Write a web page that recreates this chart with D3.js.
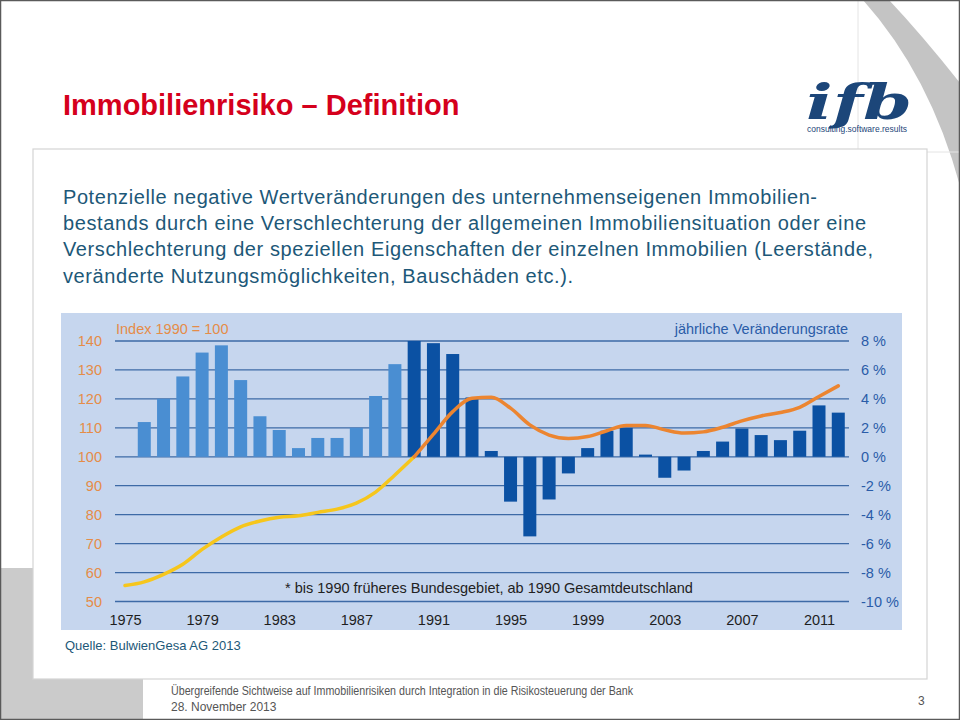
<!DOCTYPE html>
<html><head><meta charset="utf-8">
<script src="https://cdn.jsdelivr.net/npm/d3@7"></script>
<style>
html,body{margin:0;padding:0;background:#fff;}
svg{display:block;font-family:"Liberation Sans",Arial,sans-serif;}
</style></head>
<body>
<svg id="c" width="960" height="720"></svg>
<script>
// ---- data ----
const barYears = d3.range(1976, 2013);
const rates = [2.4, 4.0, 5.55, 7.2, 7.7, 5.3, 2.8, 1.85, 0.6, 1.3, 1.3, 2.0, 4.2, 6.4,
  8.0, 7.85, 7.1, 4.1, 0.4, -3.1, -5.5, -2.95, -1.15, 0.6, 1.8, 2.0, 0.15, -1.45, -0.95,
  0.4, 1.05, 1.95, 1.5, 1.15, 1.8, 3.55, 3.05];
const idxYearsWest = d3.range(1975, 1991);
const idxWest = [55.5, 56.8, 59.4, 62.9, 68.0, 72.3, 75.8, 77.8, 79.1, 79.6, 80.8, 81.9, 84.0, 87.8, 93.7, 100];
const idxYearsAll = d3.range(1990, 2013);
const idxAll = [100, 107.8, 115.6, 120.2, 120.6, 116.8, 111.0, 107.5, 106.3, 107.0, 109.0, 110.8, 110.8,
  109.3, 108.2, 108.6, 110.2, 112.4, 114.1, 115.3, 117.1, 120.8, 124.5];
const leftTicks = [50, 60, 70, 80, 90, 100, 110, 120, 130, 140];
const rightTicks = [-10, -8, -6, -4, -2, 0, 2, 4, 6, 8];
const yearTicks = [1975, 1979, 1983, 1987, 1991, 1995, 1999, 2003, 2007, 2011];
const bodyLines = [
  "Potenzielle negative Wertveränderungen des unternehmenseigenen Immobilien-",
  "bestands durch eine Verschlechterung der allgemeinen Immobiliensituation oder eine",
  "Verschlechterung der speziellen Eigenschaften der einzelnen Immobilien (Leerstände,",
  "veränderte Nutzungsmöglichkeiten, Bauschäden etc.)."
];
const bodyWidths = [754, 803, 810, 510];

const svg = d3.select("#c");

// ---- slide frame ----
svg.append("rect").attr("x",0).attr("y",568).attr("width",143).attr("height",152).attr("fill","#cbcbcb");
svg.append("path").attr("d","M863,0 L889,0 Q922,35 960,83 L960,186 Q930,75 863,0 Z").attr("fill","#c4c4c4");
svg.append("line").attr("x1",858).attr("x2",858).attr("y1",0).attr("y2",152).attr("stroke","#e4e4e4");
svg.append("line").attr("x1",855).attr("x2",960).attr("y1",152).attr("y2",152).attr("stroke","#e4e4e4");
svg.append("rect").attr("x",33).attr("y",149).attr("width",894).attr("height",530)
  .attr("fill","#fff").attr("stroke","#d4d4d4").attr("stroke-width",1.2);
svg.append("rect").attr("x",0.5).attr("y",0.5).attr("width",959).attr("height",719)
  .attr("fill","none").attr("stroke","#5a5a5a").attr("stroke-width",1.5);

// title
svg.append("text").attr("x",63).attr("y",115).attr("fill","#d5001c")
  .attr("font-size",29).attr("font-weight","bold").text("Immobilienrisiko – Definition");

// logo
svg.append("text").attr("x",806).attr("y",119).attr("fill","#1c4679")
  .attr("font-family","'DejaVu Serif',serif").attr("font-style","italic").attr("font-weight","bold")
  .attr("font-size",48).attr("textLength",106).attr("lengthAdjust","spacingAndGlyphs").text("ifb");
svg.append("text").attr("x",807).attr("y",132).attr("fill","#1c4679")
  .attr("font-size",9.5).attr("textLength",100).attr("lengthAdjust","spacingAndGlyphs").text("consulting.software.results");

// body text
svg.append("g").selectAll("text").data(bodyLines).join("text")
  .attr("x",63).attr("y",(d,i)=>204+i*26.2).attr("fill","#1d5878").attr("font-size",20)
  .attr("textLength",(d,i)=>bodyWidths[i]).attr("lengthAdjust","spacing").text(d=>d);

// ---- chart ----
const px0=61, px1=902, py0=313, py1=630;
svg.append("rect").attr("x",px0).attr("y",py0).attr("width",px1-px0).attr("height",py1-py0).attr("fill","#c6d6ee");

const x = d3.scaleLinear().domain([1975,2011]).range([125,819]);
const yIdx = d3.scaleLinear().domain([50,140]).range([601.5,341]);
const yPct = d3.scaleLinear().domain([-10,8]).range([601.5,341]);

// gridlines
svg.append("g").selectAll("line").data(leftTicks).join("line")
  .attr("x1",115).attr("x2",849).attr("y1",d=>yIdx(d)).attr("y2",d=>yIdx(d))
  .attr("stroke","#3d6aa6").attr("stroke-width",1.3);

// left axis
const gl = svg.append("g").attr("transform","translate(102,0)")
  .call(d3.axisLeft(yIdx).tickValues(leftTicks).tickSize(0).tickPadding(0));
gl.select(".domain").remove();
gl.selectAll("text").attr("fill","#e58c48").attr("font-size",14.5).attr("font-family","'Liberation Sans',Arial,sans-serif");

// right axis
const gr = svg.append("g").attr("transform","translate(861,0)")
  .call(d3.axisRight(yPct).tickValues(rightTicks).tickSize(0).tickPadding(0).tickFormat(d=>d+" %"));
gr.select(".domain").remove();
gr.selectAll("text").attr("fill","#2a5ca8").attr("font-size",14.5).attr("font-family","'Liberation Sans',Arial,sans-serif");

// bottom axis
const gb = svg.append("g").attr("transform","translate(0,614.5)")
  .call(d3.axisBottom(x).tickValues(yearTicks).tickSize(0).tickPadding(0).tickFormat(d3.format("d")));
gb.select(".domain").remove();
gb.selectAll("text").attr("fill","#1e1e1e").attr("font-size",14.5).attr("font-family","'Liberation Sans',Arial,sans-serif");

// bars
const bw = 13;
svg.append("g").selectAll("rect").data(barYears.map((yr,i)=>({yr, v:rates[i]}))).join("rect")
  .attr("x",d=>x(d.yr)-bw/2).attr("width",bw)
  .attr("y",d=>Math.min(yPct(d.v),yPct(0))).attr("height",d=>Math.abs(yPct(d.v)-yPct(0)))
  .attr("fill",d=>d.yr<1990?"#4a8ed2":"#0b51a3");

// index lines
const line = d3.line().x(d=>x(d[0])).y(d=>yIdx(d[1])).curve(d3.curveMonotoneX);
svg.append("path").datum(idxYearsWest.map((yr,i)=>[yr,idxWest[i]])).attr("d",line)
  .attr("fill","none").attr("stroke","#f6c61c").attr("stroke-width",3.5).attr("stroke-linecap","round");
svg.append("path").datum(idxYearsAll.map((yr,i)=>[yr,idxAll[i]])).attr("d",line)
  .attr("fill","none").attr("stroke","#ec8530").attr("stroke-width",3.5).attr("stroke-linecap","round");

// chart labels
svg.append("text").attr("x",116).attr("y",334).attr("fill","#e58c48").attr("font-size",14.5).text("Index 1990 = 100");
svg.append("text").attr("x",848).attr("y",334).attr("text-anchor","end").attr("fill","#2a5ca8").attr("font-size",14.5).text("jährliche Veränderungsrate");
svg.append("text").attr("x",489).attr("y",593).attr("text-anchor","middle").attr("fill","#222").attr("font-size",14.5)
  .text("* bis 1990 früheres Bundesgebiet, ab 1990 Gesamtdeutschland");

// source
svg.append("text").attr("x",65).attr("y",650).attr("fill","#1d5878").attr("font-size",13).text("Quelle: BulwienGesa AG 2013");

// footer
svg.append("text").attr("x",171).attr("y",695).attr("fill","#555").attr("font-size",12)
  .attr("font-family","'Liberation Sans Narrow','Liberation Sans',Arial,sans-serif")
  .attr("textLength",462).attr("lengthAdjust","spacingAndGlyphs")
  .text("Übergreifende Sichtweise auf Immobilienrisiken durch Integration in die Risikosteuerung der Bank");
svg.append("text").attr("x",171).attr("y",711).attr("fill","#555").attr("font-size",12)
  .attr("font-family","'Liberation Sans Narrow','Liberation Sans',Arial,sans-serif").text("28. November 2013");
svg.append("text").attr("x",918).attr("y",705).attr("fill","#555").attr("font-size",12).text("3");
</script>
</body></html>
